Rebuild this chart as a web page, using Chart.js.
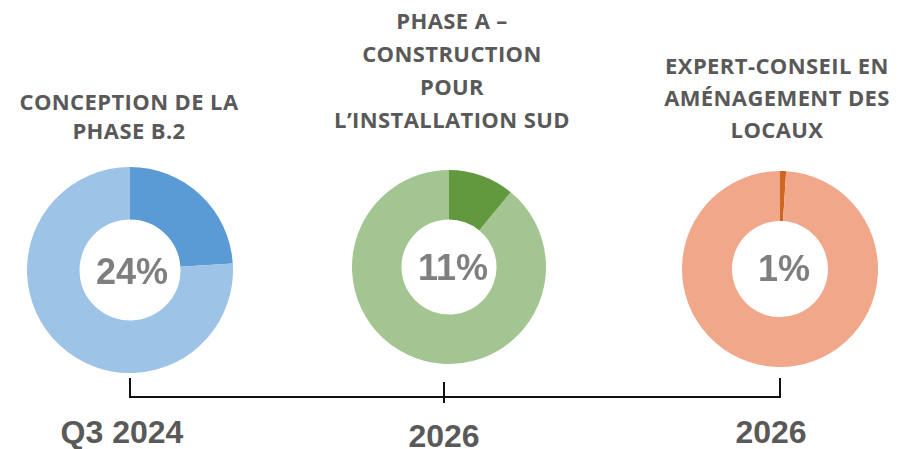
<!DOCTYPE html>
<html lang="fr">
<head>
<meta charset="utf-8">
<title>Avancement des projets</title>
<script src="https://cdn.jsdelivr.net/npm/chart.js@4.4.1/dist/chart.umd.min.js"></script>
<style>
  html, body { margin: 0; padding: 0; background: #fff; }
  body { width: 903px; height: 449px; position: relative; overflow: hidden; }
  .title {
    position: absolute; width: 300px; text-align: center;
    font-family: "Open Sans", sans-serif; font-weight: 700; font-size: 22px;
    color: #595959; letter-spacing: 0.4px;
  }
  .pct, .date {
    position: absolute; width: 200px; text-align: center;
    font-family: "Liberation Sans", Arial, sans-serif; font-weight: 700;
  }
  .pct { font-size: 36px; line-height: 36px; color: #7f7f7f; }
  .date { font-size: 32px; line-height: 32px; color: #595959; }
  canvas { position: absolute; }
  .bar { position: absolute; background: #111; }
</style>
</head>
<body>
<script>
// projets et avancement (%)
const projects = [
  ["CONCEPTION DE LA", "PHASE B.2"],
  ["PHASE A –", "CONSTRUCTION", "POUR", "L’INSTALLATION SUD"],
  ["EXPERT-CONSEIL EN", "AMÉNAGEMENT DES", "LOCAUX"]
];
const progress = [24, 11, 1];
const dates = ["Q3 2024", "2026", "2026"];

// styles
const doneColors = ["#5b9bd5", "#62993e", "#cf661d"];
const restColors = ["#9dc3e6", "#a2c591", "#f1a789"];

// placement (centre x, centre y, rayon)
const rings = [[130, 270, 103], [449, 267, 97], [780, 269, 98]];
const titleTop = [87, 4, 49];
const titleLine = [29, 33, 32];
const titleX = [129, 452, 777];
const pctPos = [[132, 272], [453, 268], [784, 269]];
const datePos = [[122, 432], [444, 436], [771, 432]];

projects.forEach((lines, i) => {
  const t = document.createElement("div");
  t.className = "title";
  t.style.left = (titleX[i] - 150) + "px";
  t.style.top = titleTop[i] + "px";
  t.style.lineHeight = titleLine[i] + "px";
  t.innerHTML = lines.join("<br>");
  document.body.appendChild(t);

  const [cx, cy, r] = rings[i];
  const cv = document.createElement("canvas");
  cv.width = 2 * r;
  cv.height = 2 * r;
  cv.style.left = (cx - r) + "px";
  cv.style.top = (cy - r) + "px";
  document.body.appendChild(cv);

  new Chart(cv.getContext("2d"), {
    type: "doughnut",
    data: {
      labels: ["Réalisé", "Restant"],
      datasets: [{
        data: [progress[i], 100 - progress[i]],
        backgroundColor: [doneColors[i], restColors[i]],
        borderWidth: 0
      }]
    },
    options: {
      responsive: false,
      animation: false,
      cutout: "49%",
      layout: { padding: 0 },
      plugins: { legend: { display: false }, tooltip: { enabled: false } }
    }
  });

  const p = document.createElement("div");
  p.className = "pct";
  p.style.left = (pctPos[i][0] - 100) + "px";
  p.style.top = (pctPos[i][1] - 18) + "px";
  p.innerText = progress[i] + "%";
  document.body.appendChild(p);

  const d = document.createElement("div");
  d.className = "date";
  d.style.left = (datePos[i][0] - 100) + "px";
  d.style.top = (datePos[i][1] - 16) + "px";
  d.innerText = dates[i];
  document.body.appendChild(d);
});

// accolade de la ligne du temps
function bar(x, y, w, h) {
  const b = document.createElement("div");
  b.className = "bar";
  Object.assign(b.style, { left: x + "px", top: y + "px", width: w + "px", height: h + "px" });
  document.body.appendChild(b);
}
bar(129, 396, 652, 2);
bar(129, 378, 2, 20);
bar(443, 382, 2, 21);
bar(779, 378, 2, 20);
</script>
</body>
</html>
